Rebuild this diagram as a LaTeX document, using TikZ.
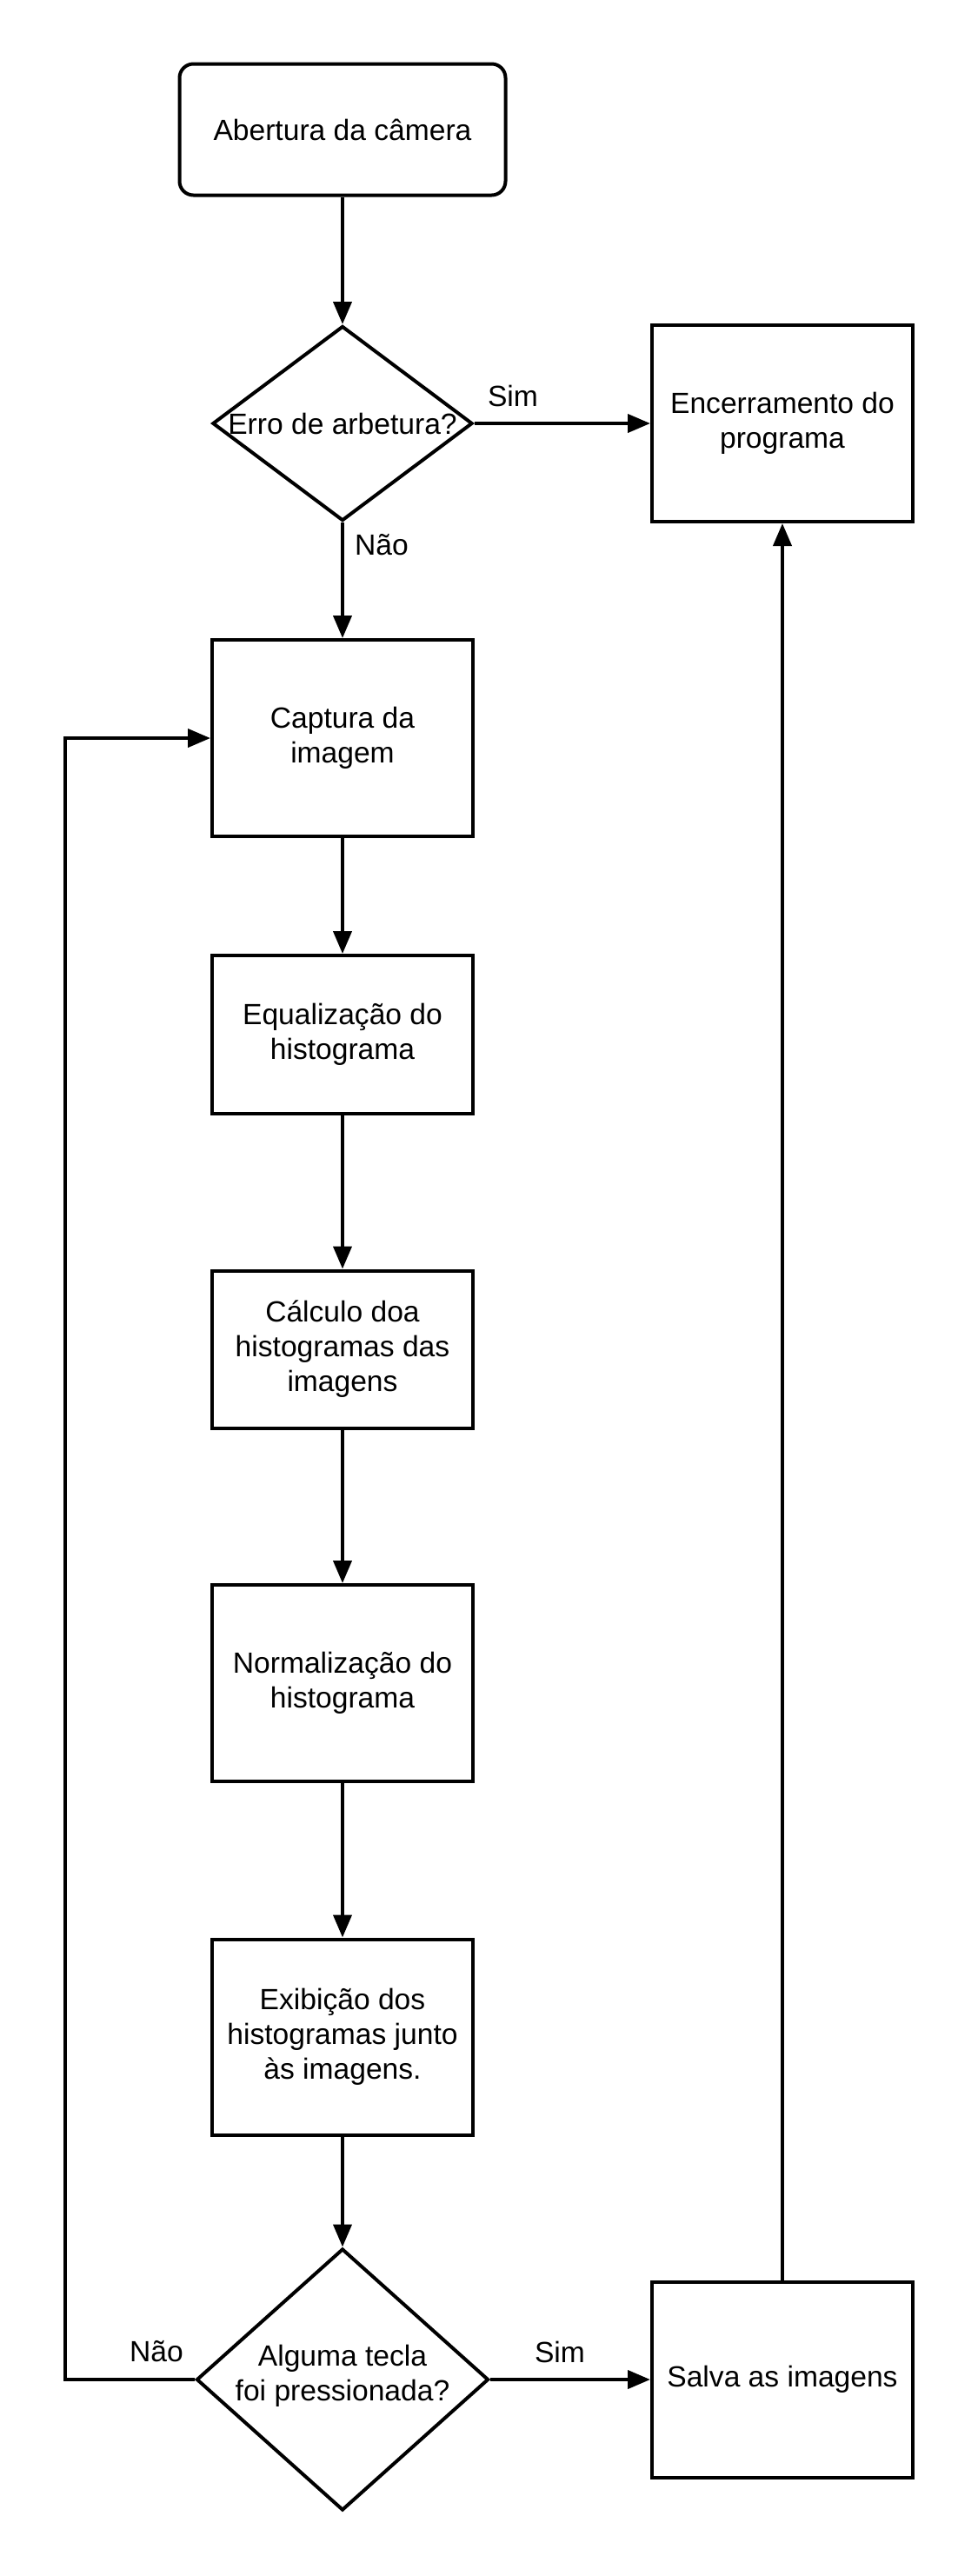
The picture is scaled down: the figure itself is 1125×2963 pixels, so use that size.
\documentclass[tikz,border=0pt]{standalone}
\usepackage{fontspec}
\setmainfont{Liberation Sans}
\usetikzlibrary{shapes.geometric,arrows.meta}

\begin{document}
\begin{tikzpicture}[x=0.5pt,y=-0.5pt,line width=2pt,>={Triangle[length=13pt,width=10.5pt]}]
\tikzstyle{every node}=[font=\fontsize{16.8}{20}\selectfont,align=center]
\tikzstyle{startbox}=[draw,rounded corners=8pt,minimum width=187.5pt,minimum height=75.5pt,inner sep=0pt]
\tikzstyle{procbox}=[draw,minimum width=150pt,inner sep=0pt]
\tikzstyle{decision}=[draw,diamond,inner sep=0pt]
\tikzstyle{lbl}=[inner sep=0pt]

\useasboundingbox (0,0) rectangle (1125,2963);

% coluna principal
\node[startbox] (abre) at (394,149) {Abertura da câmera};
\node[decision,minimum width=149.5pt,minimum height=112pt] (erro) at (394,487) {};
\node[lbl] (errotxt) at (394,487) {Erro de arbetura?};
\node[procbox,minimum height=113pt] (cap) at (394,849) {Captura da\\imagem};
\node[procbox,minimum height=91pt] (equ) at (394,1190) {Equalização do\\histograma};
\node[procbox,minimum height=90.5pt] (calc) at (394,1552) {Cálculo doa\\histogramas das\\imagens};
\node[procbox,minimum height=113pt] (norm) at (394,1936) {Normalização do\\histograma};
\node[procbox,minimum height=112.5pt] (exib) at (394,2343) {Exibição dos\\histogramas junto\\às imagens.};
\node[decision,minimum width=168pt,minimum height=150.5pt] (tecla) at (394,2737) {};
\node[lbl] (teclatxt) at (394,2733) {Alguma tecla\\foi pressionada?};

% coluna da direita
\node[procbox,minimum height=113pt] (fim) at (900,487) {Encerramento do\\programa};
\node[procbox,minimum height=112.5pt] (salva) at (900,2737) {Salva as imagens};

% rotulos
\node[lbl] (sim1) at (590,455) {Sim};
\node[lbl] (nao1) at (439,627) {Não};
\node[lbl] (sim2) at (644,2705) {Sim};
\node[lbl] (nao2) at (180,2705) {Não};

\coordinate (volta) at (75,2737);

\draw[->] (abre) -- (erro);
\draw[->] (erro.east) -- (fim.west);
\draw[->] (erro.south) -- (cap.north);
\draw[->] (cap) -- (equ);
\draw[->] (equ) -- (calc);
\draw[->] (calc) -- (norm);
\draw[->] (norm) -- (exib);
\draw[->] (exib) -- (tecla.north);
\draw[->] (tecla.east) -- (salva.west);
\draw[->] (tecla.west) -- (volta) |- (cap.west);
\draw[->] (salva) -- (fim);
\end{tikzpicture}
\end{document}
